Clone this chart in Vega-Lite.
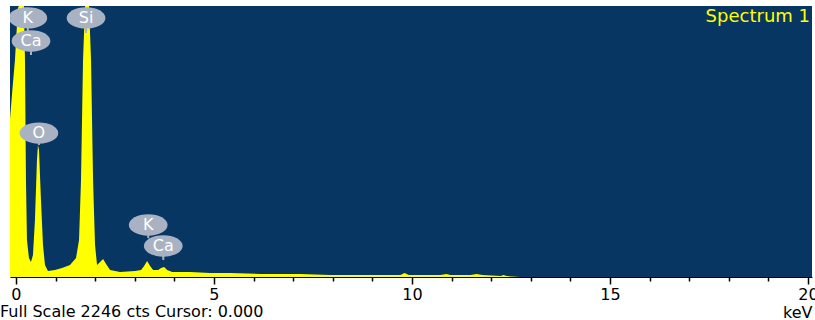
{
  "$schema": "https://vega.github.io/schema/vega-lite/v6.json",
  "width": 802,
  "height": 271,
  "autosize": {"type": "none"},
  "padding": {"left": 10, "top": 6, "right": 3, "bottom": 43},
  "background": "white",
  "config": {
    "view": {"fill": "#073663", "stroke": null},
    "font": "DejaVu Sans"
  },
  "title": {
    "text": "Full Scale 2246 cts Cursor: 0.000",
    "orient": "bottom",
    "anchor": "start",
    "frame": "group",
    "dx": -10,
    "offset": -16,
    "baseline": "top",
    "font": "DejaVu Sans",
    "fontSize": 16,
    "fontWeight": "normal",
    "color": "black"
  },
  "datasets": {
    "spectrum": [
      {"keV": -0.152, "cts": 1301}, {"keV": -0.101, "cts": 1508}, {"keV": -0.025, "cts": 1798},
      {"keV": 0.051, "cts": 2229}, {"keV": 0.076, "cts": 2246}, {"keV": 0.202, "cts": 2246},
      {"keV": 0.228, "cts": 1798}, {"keV": 0.253, "cts": 804}, {"keV": 0.278, "cts": 307},
      {"keV": 0.329, "cts": 157}, {"keV": 0.379, "cts": 124}, {"keV": 0.430, "cts": 182},
      {"keV": 0.480, "cts": 472}, {"keV": 0.531, "cts": 970}, {"keV": 0.556, "cts": 1094},
      {"keV": 0.582, "cts": 1053}, {"keV": 0.632, "cts": 638}, {"keV": 0.683, "cts": 265},
      {"keV": 0.733, "cts": 99}, {"keV": 0.809, "cts": 50}, {"keV": 0.986, "cts": 58},
      {"keV": 1.163, "cts": 75}, {"keV": 1.365, "cts": 99}, {"keV": 1.517, "cts": 157},
      {"keV": 1.593, "cts": 307}, {"keV": 1.643, "cts": 804}, {"keV": 1.694, "cts": 1798},
      {"keV": 1.745, "cts": 2246}, {"keV": 1.846, "cts": 2246}, {"keV": 1.896, "cts": 1798},
      {"keV": 1.947, "cts": 804}, {"keV": 1.997, "cts": 265}, {"keV": 2.048, "cts": 99},
      {"keV": 2.124, "cts": 124}, {"keV": 2.200, "cts": 149}, {"keV": 2.276, "cts": 108},
      {"keV": 2.377, "cts": 58}, {"keV": 2.630, "cts": 41}, {"keV": 3.009, "cts": 50},
      {"keV": 3.161, "cts": 58}, {"keV": 3.236, "cts": 91}, {"keV": 3.312, "cts": 133},
      {"keV": 3.388, "cts": 91}, {"keV": 3.464, "cts": 58}, {"keV": 3.590, "cts": 58},
      {"keV": 3.666, "cts": 75}, {"keV": 3.742, "cts": 83}, {"keV": 3.818, "cts": 58},
      {"keV": 3.944, "cts": 41}, {"keV": 4.40, "cts": 41}, {"keV": 4.905, "cts": 33},
      {"keV": 5.41, "cts": 33}, {"keV": 6.17, "cts": 25}, {"keV": 7.18, "cts": 25},
      {"keV": 7.94, "cts": 17}, {"keV": 9.71, "cts": 17}, {"keV": 9.81, "cts": 33},
      {"keV": 9.92, "cts": 17}, {"keV": 10.72, "cts": 17}, {"keV": 10.87, "cts": 25},
      {"keV": 10.97, "cts": 17}, {"keV": 11.48, "cts": 17}, {"keV": 11.63, "cts": 25},
      {"keV": 11.78, "cts": 17}, {"keV": 12.24, "cts": 8}, {"keV": 12.31, "cts": 17},
      {"keV": 12.39, "cts": 8}, {"keV": 12.74, "cts": 0}, {"keV": 20.1, "cts": 0}
    ],
    "elements": [
      {"el": "K", "keV": 0.30, "cts": 2147, "tip": 2030},
      {"el": "Ca", "keV": 0.38, "cts": 1956, "tip": 1840},
      {"el": "Si", "keV": 1.77, "cts": 2147, "tip": 2022},
      {"el": "O", "keV": 0.58, "cts": 1193, "tip": 1094},
      {"el": "K", "keV": 3.34, "cts": 431, "tip": 323},
      {"el": "Ca", "keV": 3.72, "cts": 257, "tip": 141}
    ]
  },
  "layer": [
    {
      "data": {"name": "spectrum"},
      "mark": {"type": "area", "color": "#ffff00", "clip": true, "interpolate": "linear"},
      "encoding": {
        "x": {
          "field": "keV", "type": "quantitative",
          "scale": {"domain": [-0.15, 20.1], "nice": false, "zero": false},
          "axis": {
            "values": [0,0.5,1,1.5,2,2.5,3,3.5,4,4.5,5,5.5,6,6.5,7,7.5,8,8.5,9,9.5,10,10.5,11,11.5,12,12.5,13,13.5,14,14.5,15,15.5,16,16.5,17,17.5,18,18.5,19,19.5,20],
            "labelExpr": "datum.value % 5 === 0 ? format(datum.value, 'd') : ''",
            "tickSize": {"condition": {"test": "datum.value % 5 === 0", "value": 7}, "value": 4},
            "tickColor": "black",
            "tickWidth": 1.5,
            "domainColor": "black",
            "domainWidth": 1,
            "labelColor": "black",
            "labelFont": "DejaVu Sans",
            "labelFontSize": 16,
            "labelPadding": 2,
            "labelFlush": false,
            "labelOverlap": false,
            "grid": false,
            "title": "keV",
            "titleAnchor": "end",
            "titleAlign": "right",
            "titleFont": "DejaVu Sans",
            "titleFontSize": 16,
            "titleFontWeight": "normal",
            "titleColor": "black",
            "titlePadding": 2
          }
        },
        "y": {
          "field": "cts", "type": "quantitative",
          "scale": {"domain": [0, 2246], "nice": false},
          "axis": null
        }
      }
    },
    {
      "mark": {"type": "rule", "color": "#111111", "strokeWidth": 1.5},
      "encoding": {"x": {"datum": 0.02, "type": "quantitative"}}
    },
    {
      "data": {"name": "elements"},
      "mark": {"type": "rule", "color": "#a9b2c2", "strokeWidth": 2},
      "encoding": {
        "x": {"field": "keV", "type": "quantitative"},
        "y": {"field": "cts", "type": "quantitative"},
        "y2": {"field": "tip"}
      }
    },
    {
      "data": {"name": "elements"},
      "mark": {"type": "point", "filled": true, "opacity": 1, "color": "#a9b2c2", "size": 1500, "clip": true,
               "shape": "M -1 0 A 1 0.55 0 1 0 1 0 A 1 0.55 0 1 0 -1 0 Z"},
      "encoding": {
        "x": {"field": "keV", "type": "quantitative"},
        "y": {"field": "cts", "type": "quantitative"}
      }
    },
    {
      "data": {"name": "elements"},
      "mark": {"type": "text", "color": "white", "font": "DejaVu Sans", "fontSize": 16, "baseline": "middle", "align": "center", "clip": true},
      "encoding": {
        "x": {"field": "keV", "type": "quantitative"},
        "y": {"field": "cts", "type": "quantitative"},
        "text": {"field": "el"}
      }
    },
    {
      "data": {"values": [{"name": "Spectrum 1"}]},
      "mark": {"type": "text", "color": "#ffff00", "font": "DejaVu Sans", "fontSize": 18, "align": "right", "baseline": "top", "dy": 2},
      "encoding": {
        "x": {"datum": 20.05, "type": "quantitative"},
        "y": {"datum": 2246, "type": "quantitative"},
        "text": {"field": "name"}
      }
    }
  ]
}
